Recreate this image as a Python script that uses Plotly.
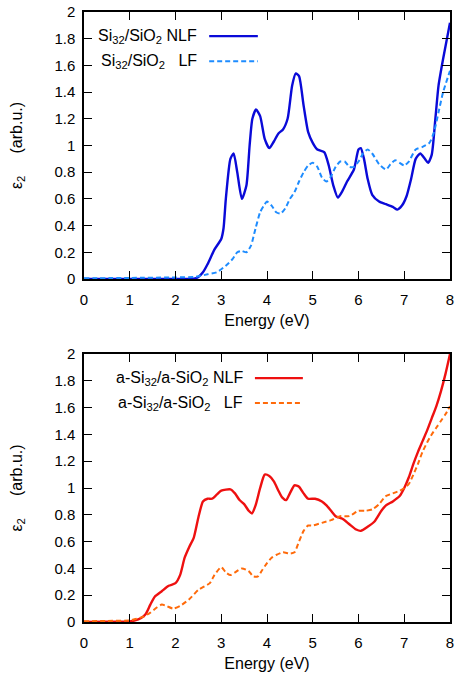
import plotly.graph_objects as go

# ---------------- data ----------------
top_nlf_x = [0, 1.0, 2.0, 2.4, 2.5, 2.6, 2.7, 2.85, 3.0, 3.05, 3.1, 3.2, 3.27, 3.35, 3.45, 3.55, 3.62, 3.68, 3.76,
             3.85, 3.95, 4.05, 4.15, 4.25, 4.35, 4.45, 4.55, 4.63, 4.7, 4.8, 4.9, 5.0, 5.1, 5.25, 5.35, 5.45,
             5.55, 5.65, 5.75, 5.9, 6.0, 6.05, 6.12, 6.2, 6.3, 6.45, 6.6, 6.75, 6.85, 6.95, 7.05, 7.15, 7.25,
             7.35, 7.45, 7.52, 7.6, 7.68, 7.75, 7.85, 8.0]
top_nlf_y = [0, 0, 0, 0.002, 0.015, 0.05, 0.11, 0.22, 0.3, 0.38, 0.6, 0.9, 0.94, 0.8, 0.6, 0.7, 1.0, 1.2, 1.27,
             1.22, 1.05, 0.98, 1.03, 1.09, 1.12, 1.2, 1.45, 1.54, 1.52, 1.3, 1.1, 1.02, 0.97, 0.95, 0.85, 0.7,
             0.61, 0.66, 0.73, 0.82, 0.97, 0.98, 0.9, 0.75, 0.63, 0.58, 0.56, 0.54, 0.52, 0.55, 0.62, 0.75, 0.9,
             0.94, 0.9, 0.87, 0.93, 1.2, 1.45, 1.65, 1.92]

top_lf_x = [0, 1.0, 2.0, 2.4, 2.5, 2.7, 2.9, 3.1, 3.25, 3.35, 3.45, 3.55, 3.65, 3.75, 3.85, 3.95, 4.0, 4.1, 4.2,
            4.3, 4.4, 4.5, 4.6, 4.7, 4.8, 4.9, 5.0, 5.1, 5.2, 5.3, 5.4, 5.5, 5.6, 5.7, 5.8, 5.9, 6.0, 6.1, 6.2,
            6.3, 6.45, 6.6, 6.7, 6.8, 6.9, 7.0, 7.1, 7.25, 7.4, 7.55, 7.65, 7.75, 7.85, 8.0]
top_lf_y = [0.005, 0.008, 0.012, 0.015, 0.02, 0.035, 0.05, 0.1, 0.15, 0.2, 0.21, 0.2, 0.25, 0.38, 0.5, 0.56,
            0.58, 0.55, 0.5, 0.49, 0.53, 0.6, 0.65, 0.73, 0.8, 0.85, 0.87, 0.84, 0.76, 0.73, 0.77, 0.84, 0.88,
            0.88, 0.84, 0.84, 0.88, 0.94, 0.97, 0.94, 0.86, 0.82, 0.86, 0.89, 0.87, 0.85, 0.88, 0.97, 0.99,
            1.02, 1.1, 1.25, 1.4, 1.56]

bot_nlf_x = [0, 0.5, 1.0, 1.1, 1.25, 1.35, 1.45, 1.55, 1.7, 1.85, 2.0, 2.1, 2.2, 2.3, 2.4, 2.5, 2.6, 2.7, 2.8,
             2.9, 3.0, 3.2, 3.3, 3.4, 3.5, 3.6, 3.67, 3.75, 3.85, 3.95, 4.05, 4.15, 4.25, 4.33, 4.42, 4.5, 4.6,
             4.7, 4.8, 4.9, 5.05, 5.2, 5.3, 5.4, 5.5, 5.65, 5.8, 5.95, 6.05, 6.2, 6.35, 6.5, 6.6, 6.75, 6.9,
             7.0, 7.1, 7.2, 7.3, 7.4, 7.5, 7.6, 7.7, 7.8, 7.9, 8.0]
bot_nlf_y = [0, 0.002, 0.005, 0.01, 0.03, 0.06, 0.13, 0.19, 0.23, 0.27, 0.29, 0.35, 0.48, 0.56, 0.63, 0.78,
             0.9, 0.92, 0.92, 0.95, 0.98, 0.99, 0.96, 0.91, 0.88, 0.83, 0.81, 0.87, 1.0, 1.1, 1.09, 1.05, 0.98,
             0.93, 0.91, 0.96, 1.02, 1.01, 0.96, 0.92, 0.92, 0.9, 0.87, 0.83, 0.79, 0.77, 0.73, 0.69, 0.68,
             0.71, 0.75, 0.83, 0.87, 0.9, 0.94, 1.0, 1.08, 1.18, 1.27, 1.35, 1.43, 1.52, 1.61, 1.72, 1.85, 2.0]

bot_lf_x = [0, 0.5, 1.0, 1.1, 1.3, 1.45, 1.6, 1.7, 1.8, 1.95, 2.1, 2.3, 2.5, 2.6, 2.75, 2.85, 3.0, 3.1, 3.2,
            3.3, 3.45, 3.6, 3.7, 3.8, 3.9, 4.0, 4.1, 4.2, 4.35, 4.5, 4.6, 4.7, 4.8, 4.9, 5.0, 5.2, 5.4, 5.6,
            5.8, 6.0, 6.15, 6.3, 6.45, 6.6, 6.75, 6.9, 7.0, 7.1, 7.2, 7.3, 7.4, 7.5, 7.6, 7.7, 7.8, 7.9, 8.0]
bot_lf_y = [0.005, 0.008, 0.012, 0.02, 0.04, 0.07, 0.11, 0.13, 0.12, 0.1, 0.12, 0.17, 0.24, 0.26, 0.29, 0.35,
            0.41, 0.37, 0.35, 0.37, 0.4, 0.38, 0.34, 0.34, 0.39, 0.44, 0.48, 0.5, 0.52, 0.51, 0.52, 0.6, 0.68,
            0.72, 0.72, 0.74, 0.76, 0.79, 0.79, 0.83, 0.83, 0.84, 0.88, 0.94, 0.96, 0.98, 1.0, 1.03, 1.1,
            1.18, 1.27, 1.34, 1.4, 1.45, 1.5, 1.55, 1.61]

x_ticks = [0, 1, 2, 3, 4, 5, 6, 7, 8]
y_ticks = [0, 0.2, 0.4, 0.6, 0.8, 1, 1.2, 1.4, 1.6, 1.8, 2]
y_ticklabels = ["0", "0.2", "0.4", "0.6", "0.8", "1", "1.2", "1.4", "1.6", "1.8", "2"]

NB = "\u00a0"
top_labels = ["Si<sub>32</sub>/SiO<sub>2</sub> NLF", "Si<sub>32</sub>/SiO<sub>2</sub>" + NB * 3 + "LF"]
bot_labels = ["a-Si<sub>32</sub>/a-SiO<sub>2</sub> NLF", "a-Si<sub>32</sub>/a-SiO<sub>2</sub>" + NB * 3 + "LF"]

# ---------------- styles ----------------
C_TOP_NLF = "#0a0ad8"
C_TOP_LF = "#1e8cff"
C_BOT_NLF = "#ee1010"
C_BOT_LF = "#ff6a0a"
FONT = "Liberation Sans, Arial, sans-serif"

fig = go.Figure()
line_smooth = dict(shape="spline", smoothing=0.6)
fig.add_trace(go.Scatter(x=top_nlf_x, y=top_nlf_y, mode="lines", xaxis="x", yaxis="y",
                         line=dict(color=C_TOP_NLF, width=2.4, **line_smooth), showlegend=False))
fig.add_trace(go.Scatter(x=top_lf_x, y=top_lf_y, mode="lines", xaxis="x", yaxis="y",
                         line=dict(color=C_TOP_LF, width=2, dash="5px,3px", **line_smooth), showlegend=False))
fig.add_trace(go.Scatter(x=bot_nlf_x, y=bot_nlf_y, mode="lines", xaxis="x2", yaxis="y2",
                         line=dict(color=C_BOT_NLF, width=2.4, **line_smooth), showlegend=False))
fig.add_trace(go.Scatter(x=bot_lf_x, y=bot_lf_y, mode="lines", xaxis="x2", yaxis="y2",
                         line=dict(color=C_BOT_LF, width=2, dash="5px,3px", **line_smooth), showlegend=False))

axis_common = dict(showline=True, linecolor="black", linewidth=1.5, mirror="allticks",
                   ticks="inside", ticklen=8, tickwidth=1, tickcolor="black",
                   showgrid=False, zeroline=False, automargin=False,
                   tickfont=dict(family=FONT, size=15, color="black"))

xa = dict(axis_common, range=[0, 8], tickvals=x_ticks, ticklabelstandoff=6,
          title=dict(text="Energy (eV)", font=dict(family=FONT, size=16, color="black"), standoff=8))
ya = dict(axis_common, range=[0, 2], tickvals=y_ticks, ticktext=y_ticklabels, ticklabelstandoff=4,
          title=dict(text="ε<sub>2</sub>" + NB * 5 + "(arb.u.)", font=dict(family=FONT, size=16, color="black"),
                     standoff=28))

fig.update_layout(
    width=456, height=677,
    margin=dict(l=84, r=6, t=12, b=55),
    paper_bgcolor="white", plot_bgcolor="white",
    xaxis=dict(xa, domain=[0, 1], anchor="y"),
    yaxis=dict(ya, domain=[0.5623, 1], anchor="x"),
    xaxis2=dict(xa, domain=[0, 1], anchor="y2"),
    yaxis2=dict(ya, domain=[0, 0.4393], anchor="x2"),
)

# legend-like labels (text right-aligned, key line to its right)
ann = []
shapes = []
def legend(xref, yref, labels, colors, dashes, xtext, ys, xl0, xl1):
    for lab, col, d, yy in zip(labels, colors, dashes, ys):
        ann.append(dict(text=lab, xref=xref, yref=yref, x=xtext, y=yy, xanchor="right", yanchor="middle",
                        showarrow=False, font=dict(family=FONT, size=16, color="black")))
        shapes.append(dict(type="line", xref=xref, yref=yref, x0=xl0, x1=xl1, y0=yy, y1=yy,
                           line=dict(color=col, width=2.2 if d == "solid" else 2, dash=d)))

legend("x domain", "y domain", top_labels, [C_TOP_NLF, C_TOP_LF], ["solid", "5px,3px"],
       0.314, [0.910, 0.816], 0.342, 0.475)
legend("x2 domain", "y2 domain", bot_labels, [C_BOT_NLF, C_BOT_LF], ["solid", "5px,3px"],
       0.44, [0.910, 0.817], 0.467, 0.598)

fig.update_layout(annotations=ann, shapes=shapes)
fig.write_html("out.html", config={"displayModeBar": False},
               post_script="document.body.style.margin='0';document.body.style.overflow='hidden';")
